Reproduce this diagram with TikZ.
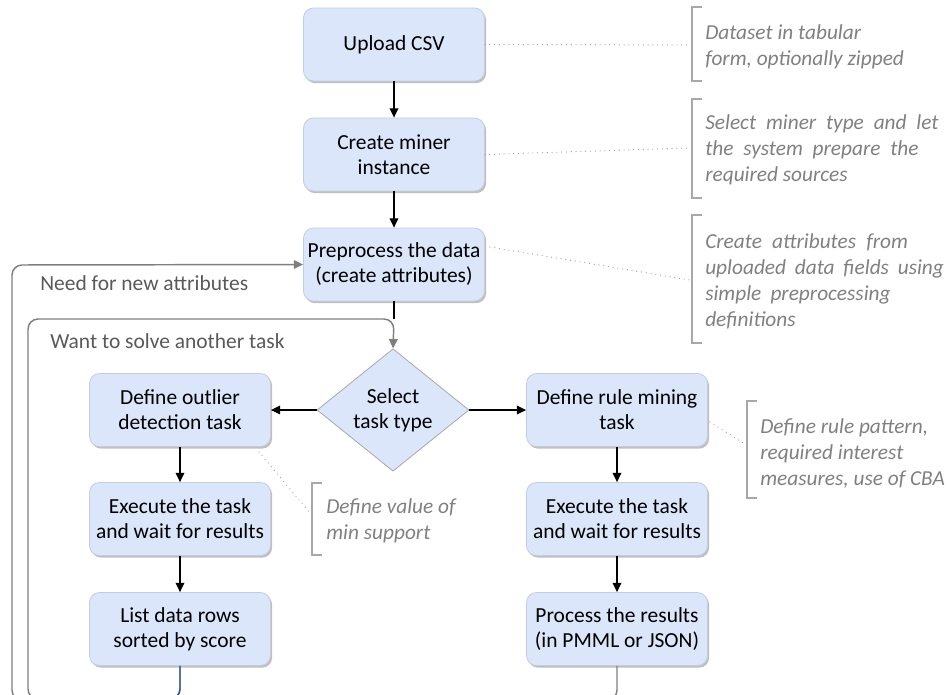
\documentclass[tikz,border=0pt]{standalone}
\usepackage{fontspec}
\setmainfont{Carlito}
\usetikzlibrary{arrows.meta,shapes.geometric,shadows}
\definecolor{boxfill}{HTML}{DCE6FA}
\definecolor{boxline}{HTML}{C3CDE2}
\definecolor{loopgrey}{HTML}{7F7F7F}
\definecolor{labelgrey}{HTML}{595959}
\definecolor{notegrey}{HTML}{808080}
\definecolor{bracketgrey}{HTML}{A8A8A8}
\definecolor{dotgrey}{HTML}{999999}
\definecolor{selblue}{HTML}{2F5597}
\tikzset{
  stepbox/.style={draw=boxline, line width=0.6pt, fill=boxfill, rounded corners=7.5pt,
    minimum width=135.75pt, minimum height=54.75pt, align=center, inner sep=2pt,
    font=\fontsize{16.1pt}{18.75pt}\selectfont,
    drop shadow={shadow xshift=1.2pt, shadow yshift=-1.6pt, opacity=0.25, fill=black}},
  choice/.style={diamond, draw=bracketgrey, line width=0.6pt, fill=boxfill, inner sep=0pt,
    minimum width=114pt, minimum height=90pt, align=center,
    font=\fontsize{16.1pt}{18.75pt}\selectfont},
  flow/.style={draw=black, line width=1.1pt, -{Triangle[length=7pt,width=6.5pt]}},
  plainflow/.style={draw=black, line width=1.1pt},
  loopline/.style={draw=loopgrey, line width=1.1pt, rounded corners=7.5pt,
    -{Triangle[length=7pt,width=6.5pt]}},
  looplabel/.style={anchor=west, inner sep=0pt, text=labelgrey,
    font=\fontsize{16.1pt}{18.75pt}\selectfont},
  note/.style={anchor=west, inner sep=0pt, align=left, text=notegrey,
    font=\fontsize{16pt}{19.5pt}\selectfont\itshape},
  notebracket/.style={draw=bracketgrey, line width=1.1pt},
  leader/.style={draw=dotgrey, line width=0.9pt, line cap=round,
    dash pattern=on 0pt off 3.6pt}
}
\begin{document}
\begin{tikzpicture}[x=0.75pt, y=-0.75pt]
\useasboundingbox (0,0) rectangle (948,694);
\begin{scope}
\clip (0,0) rectangle (948,694);

% main column
\node[stepbox] (up)  at (394,44.5) {Upload CSV};
\node[stepbox] (cm)  at (394,154.5) {Create miner\\instance};
\node[stepbox] (pre) at (394,264.5) {Preprocess the data\\(create attributes)};
\node[choice]  (sel) at (393,410) {Select\\task type};

% outlier branch
\node[stepbox] (od)  at (180,410) {Define outlier\\detection task};
\node[stepbox] (ex1) at (180,519) {Execute the task\\and wait for results};
\node[stepbox] (ls)  at (180,629) {List data rows\\sorted by score};

% rule mining branch
\node[stepbox] (rm)  at (617,410) {Define rule mining\\task};
\node[stepbox] (ex2) at (617,519) {Execute the task\\and wait for results};
\node[stepbox] (pr)  at (617,629) {Process the results\\(in PMML or JSON)};

% forward flow
\draw[flow] (up) -- (cm);
\draw[flow] (cm) -- (pre);
\coordinate (joint) at (394,319);
\draw[plainflow] (pre.south) -- (joint);
\draw[flow] (sel.west) -- (od.east);
\draw[flow] (sel.east) -- (rm.west);
\draw[flow] (od) -- (ex1);
\draw[flow] (ex1) -- (ls);
\draw[flow] (rm) -- (ex2);
\draw[flow] (ex2) -- (pr);

% feedback loops
\draw[loopline] (pr.south) -- (617,700) -- (12,700) -- (12,265) -- (pre.west);
\draw[loopline] (ls.south) -- (180,699) -- (28,699) -- (28,319) -- (394,319) -- (sel.north);
\draw[selblue, line width=1.1pt, rounded corners=7.5pt] (ls.south) -- (180,699) -- (150,699);
\node[looplabel] (lbl1) at (40,283) {Need for new attributes};
\node[looplabel] (lbl2) at (50,341) {Want to solve another task};

% annotation brackets
\draw[notebracket] (702,7) -- (692,7) -- (692,81) -- (702,81);
\draw[notebracket] (702,99) -- (692,99) -- (692,198) -- (702,198);
\draw[notebracket] (702,215) -- (692,215) -- (692,343) -- (702,343);
\draw[notebracket] (757,401) -- (747,401) -- (747,498) -- (757,498);
\draw[notebracket] (322,483) -- (312,483) -- (312,555) -- (322,555);

% annotation texts
\node[note] (n1) at (705,47) {Dataset in tabular\\form, optionally zipped};
\node[note] (n2) at (705,150) {\makebox[175pt][s]{Select miner type and let}\\
  \makebox[160pt][s]{the system prepare the}\\required sources};
\node[note] (n3) at (705,281) {\makebox[152pt][s]{Create attributes from}\\
  \makebox[179pt][s]{uploaded data fields using}\\
  \makebox[139pt][s]{simple preprocessing}\\definitions};
\node[note] (n4) at (760,453) {Define rule pattern,\\required interest\\measures, use of CBA};
\node[note] (n5) at (326,521) {Define value of\\min support};

% dotted leaders from steps to their notes
\coordinate (t1) at (690,45);
\coordinate (t2) at (690,148);
\coordinate (s3) at (490,247);
\coordinate (t3) at (690,280);
\coordinate (s4) at (710,422);
\coordinate (t4) at (745,444);
\coordinate (s5) at (259,452);
\coordinate (t5) at (310,513);
\draw[leader] (up.east) -- (t1);
\draw[leader] (cm.east) -- (t2);
\draw[leader] (s3) -- (t3);
\draw[leader] (s4) -- (t4);
\draw[leader] (s5) -- (t5);
\end{scope}
\end{tikzpicture}
\end{document}
